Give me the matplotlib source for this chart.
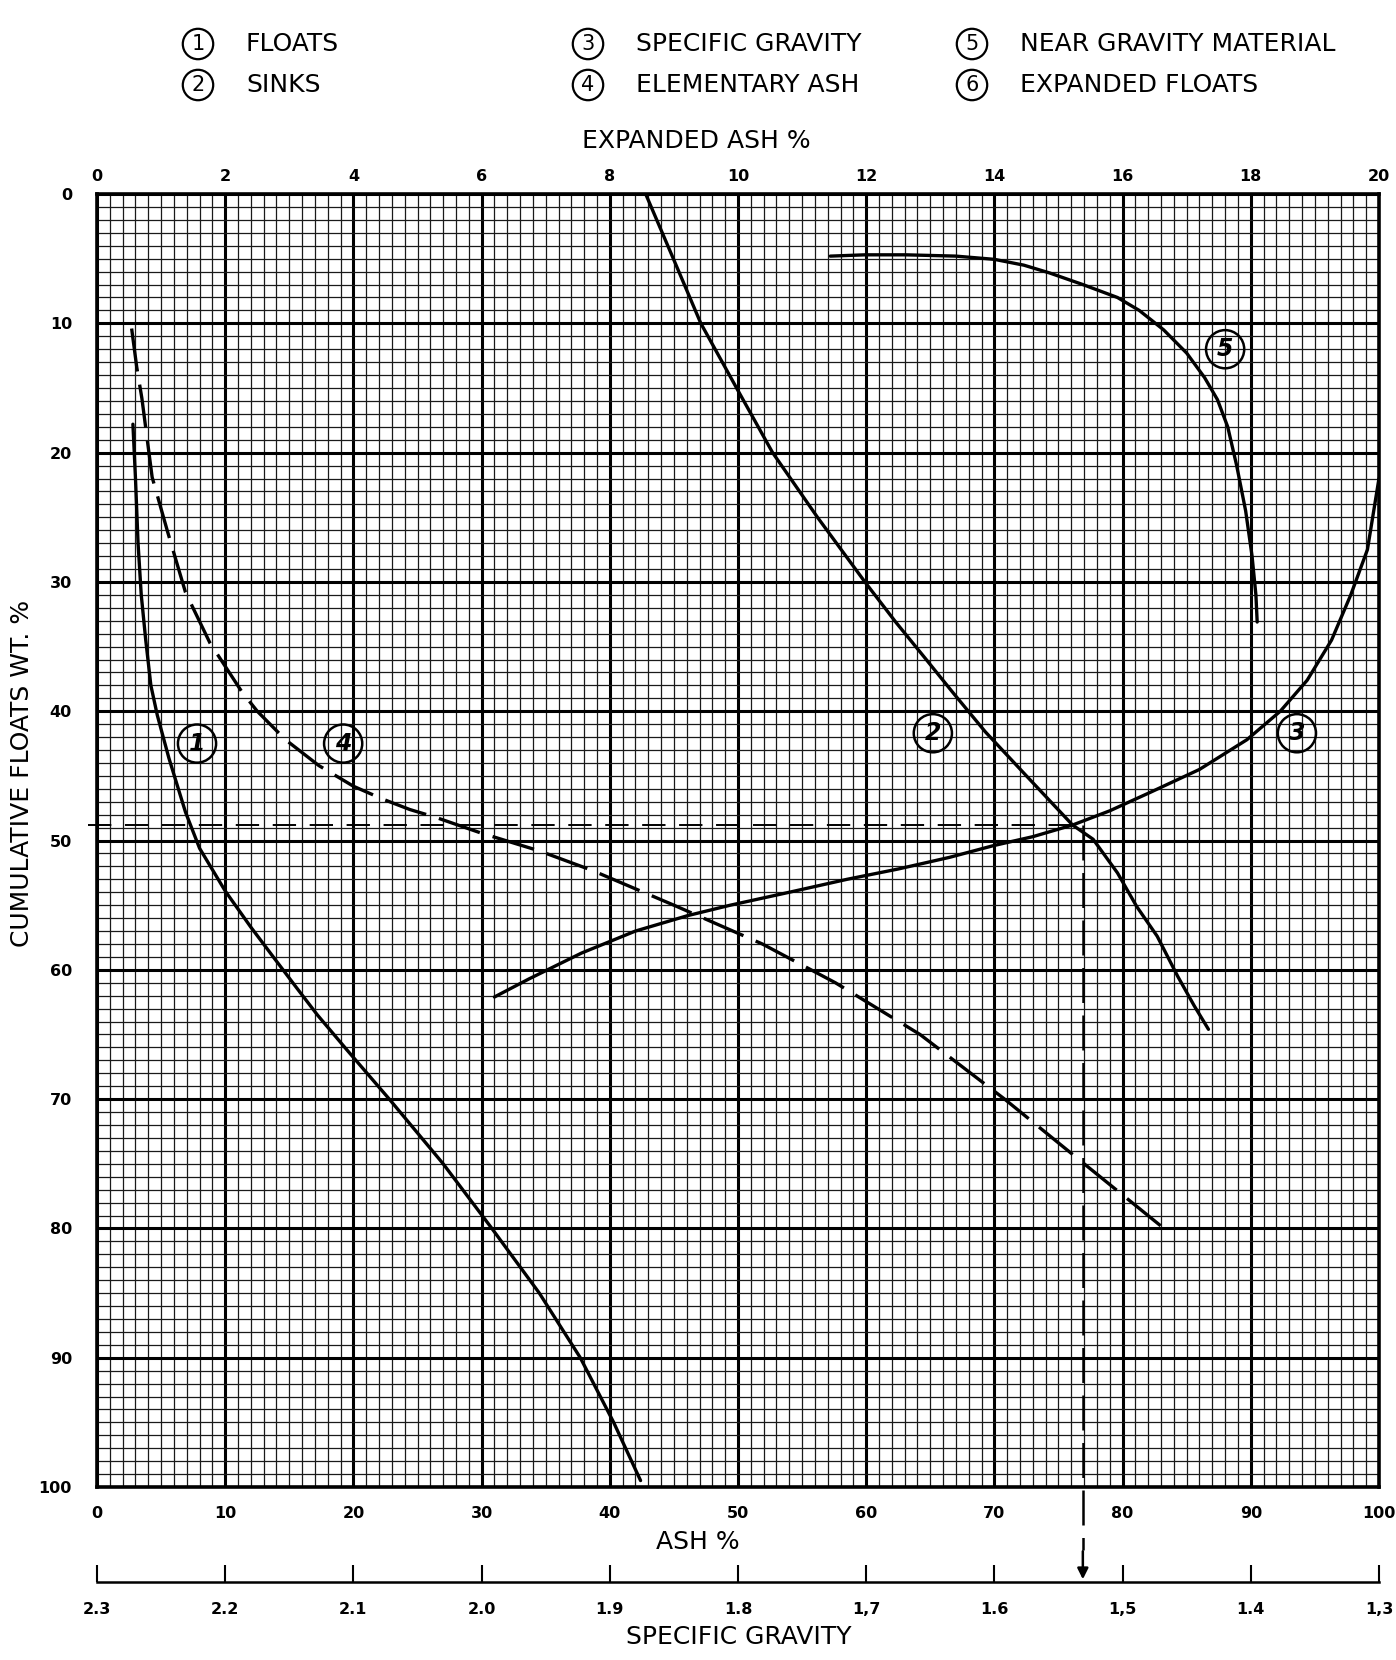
import numpy as np
import matplotlib
matplotlib.use("Agg")
import matplotlib.pyplot as plt

plt.rcParams['font.family'] = ['DejaVu Sans']

# --- curves: (ash %, cumulative floats wt %) ---
floats_ash = [2.8, 3.0, 3.2, 3.45, 3.8, 4.2, 4.7, 5.6, 6.9, 8.0, 10.0, 12.0, 13.9,
              15.5, 17.2, 19.5, 22.8, 27.0, 30.8, 34.5, 37.7, 40.3, 42.4]
floats_wt = [17.8, 22, 27, 31, 34.5, 38, 40.3, 43.6, 47.8, 50.6, 53.9, 56.7, 59.2,
             61.3, 63.5, 66.2, 70, 75, 80, 85, 90, 95, 99.5]

sinks_ash = [42.8, 45.0, 47.1, 50.0, 52.7, 56.2, 59.9, 62.3, 64.6, 66.8, 69.3,
             72.5, 76.1, 77.7, 79.6, 81.1, 82.7, 84.3, 85.6, 86.7]
sinks_wt = [0, 5.1, 10, 15.2, 20, 25, 30, 33.1, 35.9, 38.6, 41.6,
            45, 48.8, 49.9, 52.5, 55.1, 57.4, 60.5, 62.8, 64.6]

sg_ash = [31.0, 33.7, 37.8, 42.0, 46.1, 49.4, 54.0, 58.5, 62.5, 66.5, 69.9, 73.0,
          76.1, 79.0, 82.1, 86.0, 89.7, 92.3, 94.4, 96.3, 97.8, 99.1, 100.0]
sg_wt = [62.1, 60.7, 58.7, 57.0, 55.8, 55.0, 54.0, 53.0, 52.2, 51.3, 50.4, 49.7,
         48.8, 47.7, 46.3, 44.5, 42.2, 40.0, 37.6, 34.5, 31.0, 27.5, 22.0]

elem_ash = [2.7, 3.1, 3.5, 4.3, 5.5, 6.9, 8.8, 11.3, 12.5, 14.7, 17.3, 20.0, 22.3,
            24.4, 26.4, 29.9, 34.5, 38.6, 45.0, 51.9, 57.6, 64.2, 70.8, 77.0, 83.6]
elem_wt = [10.4, 13.4, 15.8, 21.9, 26.1, 30.8, 34.7, 38.5, 40.0, 42.2, 44.2, 45.8, 46.8,
           47.6, 48.2, 49.4, 50.8, 52.3, 55, 58, 61, 65, 70, 75, 80.3]

ngm_ash = [57.2, 59.9, 63.1, 67.0, 70.0, 72.3, 74.3, 76.9, 79.6, 81.3, 83.2, 85.0,
           86.4, 87.4, 88.2, 88.9, 89.6, 90.1, 90.4, 90.5]
ngm_wt = [4.8, 4.7, 4.7, 4.8, 5.05, 5.5, 6.1, 7.0, 8.0, 9.0, 10.5, 12.3,
          14.2, 15.9, 18.0, 21.0, 24.5, 28.0, 31.0, 33.1]

# reading of the separation point
read_wt = 48.8
read_sg = 1.531

legend_nums = ["1", "2", "3", "4", "5", "6"]
legend_names = ["FLOATS", "SINKS", "SPECIFIC GRAVITY", "ELEMENTARY ASH",
                "NEAR GRAVITY MATERIAL", "EXPANDED FLOATS"]

ash_ticks = list(range(0, 101, 10))
wt_ticks = list(range(0, 101, 10))
exp_ticks = list(range(0, 21, 2))
sg_ticks = [2.3, 2.2, 2.1, 2.0, 1.9, 1.8, 1.7, 1.6, 1.5, 1.4, 1.3]
sg_labels = ["2.3", "2.2", "2.1", "2.0", "1.9", "1.8", "1,7", "1.6", "1,5", "1.4", "1,3"]


def ash2sg(a):
    return 2.3 - np.asarray(a) / 100.0


def sg2ash(s):
    return (2.3 - np.asarray(s)) * 100.0


fig = plt.figure(figsize=(13.96, 16.6), dpi=100)
ax = fig.add_axes([0.0695, 0.1042, 0.9183, 0.7789])
ax.set_xlim(0, 100)
ax.set_ylim(100, 0)

# graph paper
ax.set_xticks(ash_ticks)
ax.set_yticks(wt_ticks)
ax.set_xticks(np.arange(0, 101, 1), minor=True)
ax.set_yticks(np.arange(0, 101, 1), minor=True)
ax.grid(which="minor", color="#1a1a1a", lw=0.9)
ax.grid(which="major", color="black", lw=2.2)
ax.set_axisbelow(True)
for sp in ax.spines.values():
    sp.set_linewidth(2.6)

ax.tick_params(which="both", length=0)
ax.tick_params(axis="x", pad=14, labelsize=11.5)
ax.tick_params(axis="y", pad=18, labelsize=11.5)
for lab in ax.get_xticklabels() + ax.get_yticklabels():
    lab.set_fontweight("bold")

# curves
style = dict(color="black", lw=2.4, solid_capstyle="round", solid_joinstyle="round")
ax.plot(floats_ash, floats_wt, **style)
ax.plot(sinks_ash, sinks_wt, **style)
ax.plot(sg_ash, sg_wt, **style)
ax.plot(ngm_ash, ngm_wt, **style)
ax.plot(elem_ash, elem_wt, color="black", lw=2.4, dashes=(13, 4))

# reading lines
read_ash = float(sg2ash(read_sg))
ax.plot([-0.7, read_ash - 1], [read_wt, read_wt], color="black", lw=1.4,
        dashes=(12, 7), clip_on=False)
sg_loc = -0.0735
sg_wt_pos = 100 - sg_loc * 100
ax.plot([read_ash, read_ash], [read_wt, sg_wt_pos - 2.5], color="black", lw=1.8,
        dashes=(14, 5), clip_on=False)
ax.annotate("", xy=(read_ash, sg_wt_pos), xytext=(read_ash, sg_wt_pos - 2.6),
            arrowprops=dict(arrowstyle="-|>", color="black", lw=1.8,
                            mutation_scale=16),
            annotation_clip=False)

# circled curve labels
circ = dict(boxstyle="circle,pad=0.3", fc="none", ec="black", lw=1.8)
for num, (x, y) in zip(["1", "4", "2", "3", "5"],
                       [(7.8, 42.5), (19.2, 42.5), (65.2, 41.7), (93.6, 41.7), (88.0, 12.0)]):
    ax.text(x, y, num, ha="center", va="center", fontsize=17, fontstyle="italic",
            fontweight="bold", bbox=circ)

# top axis: expanded ash
top = ax.secondary_xaxis("top", functions=(lambda a: np.asarray(a) / 5.0,
                                           lambda e: np.asarray(e) * 5.0))
top.set_xticks(exp_ticks)
top.tick_params(length=0, pad=7, labelsize=11.5)
for lab in top.get_xticklabels():
    lab.set_fontweight("bold")
top.spines["top"].set_visible(False)

# bottom specific gravity scale
sg = ax.secondary_xaxis(sg_loc, functions=(ash2sg, sg2ash))
sg.set_xticks(sg_ticks)
sg.set_xticklabels(sg_labels)
sg.tick_params(direction="in", length=12, width=1.5, pad=14, labelsize=11.5)
for lab in sg.get_xticklabels():
    lab.set_fontweight("bold")
sg.spines["bottom"].set_linewidth(1.8)

# axis titles
fig.text(0.4986, 1 - 141 / 1660, "EXPANDED ASH %", ha="center", va="center",
         fontsize=18)
fig.text(0.5, 1 - 1542 / 1660, "ASH %", ha="center", va="center", fontsize=18)
fig.text(0.529, 1 - 1637 / 1660, "SPECIFIC GRAVITY", ha="center", va="center",
         fontsize=18)
fig.text(0.016, 1 - 773 / 1660, "CUMULATIVE FLOATS WT. %", ha="center", va="center",
         rotation=90, fontsize=18)

# legend block at the top
lcirc = dict(boxstyle="circle,pad=0.25", fc="none", ec="black", lw=1.6)
col_x = [198, 588, 972]
row_y = [44, 85]
for i, (num, name) in enumerate(zip(legend_nums, legend_names)):
    cx = col_x[i // 2] / 1396
    cy = 1 - row_y[i % 2] / 1660
    fig.text(cx, cy, num, ha="center", va="center", fontsize=15, bbox=lcirc)
    fig.text(cx + 48 / 1396, cy, name, ha="left", va="center", fontsize=18)

fig.savefig("out.png", dpi=100)
